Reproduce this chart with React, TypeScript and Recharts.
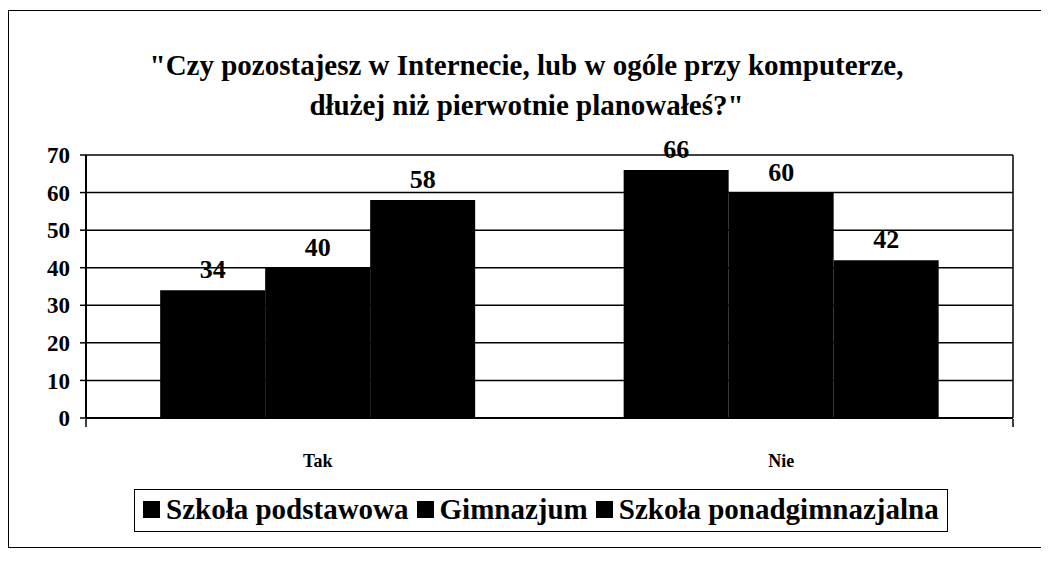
import {
  Bar,
  BarChart,
  CartesianGrid,
  LabelList,
  Legend,
  XAxis,
  YAxis,
} from "recharts";

const FONT = "Liberation Serif, Times New Roman, serif";

const categories = ["Tak", "Nie"];
const szkolaPodstawowa = [34, 66];
const gimnazjum = [40, 60];
const ponadgimnazjalna = [58, 42];
const yTicks = [0, 10, 20, 30, 40, 50, 60, 70];
const edgeTicks = [0, 1, 2];

const seriesNames = ["Szkoła podstawowa", "Gimnazjum", "Szkoła ponadgimnazjalna"];

const data = categories.map((c, i) => ({
  name: c,
  a: szkolaPodstawowa[i],
  b: gimnazjum[i],
  c: ponadgimnazjalna[i],
}));

function LegendBox() {
  return (
    <div
      style={{
        border: "1.5px solid #000",
        padding: "3px 8px 5px 8px",
        display: "flex",
        alignItems: "center",
        fontFamily: FONT,
        fontWeight: "bold",
        fontSize: 29,
        whiteSpace: "nowrap",
        background: "#fff",
      }}
    >
      {seriesNames.map((n, i) => (
        <span key={i} style={{ display: "flex", alignItems: "center", marginRight: i < 2 ? 8 : 0 }}>
          <span style={{ width: 17, height: 17, background: "#000", display: "inline-block", marginRight: 6 }} />
          {n}
        </span>
      ))}
    </div>
  );
}

// blank tick label: only the tick marks of the edge axis are wanted
const NoLabel = () => <g />;

export default function App() {
  return (
    <div
      style={{
        position: "relative",
        width: 1035,
        height: 536,
        marginTop: 2,
        border: "1.5px solid #000",
        background: "#fff",
      }}
    >
      <div
        style={{
          position: "absolute",
          top: 34,
          left: 0,
          width: "100%",
          textAlign: "center",
          fontFamily: FONT,
          fontWeight: "bold",
          fontSize: 29,
          lineHeight: "40px",
          zIndex: 2,
        }}
      >
        "Czy pozostajesz w Internecie, lub w ogóle przy komputerze,
        <br />
        dłużej niż pierwotnie planowałeś?"
      </div>
      <BarChart
        width={1035}
        height={536}
        data={data}
        margin={{ top: 144, right: 31, left: 0, bottom: 127 }}
        barCategoryGap="16%"
        barGap={0}
      >
        <CartesianGrid
          stroke="#000"
          strokeWidth={1.5}
          vertical={true}
          verticalCoordinatesGenerator={({ offset }: any) => [offset.left + offset.width]}
        />
        <XAxis
          dataKey="name"
          tickLine={false}
          axisLine={{ stroke: "#000", strokeWidth: 2 }}
          tick={{ fill: "#000", fontFamily: FONT, fontWeight: "bold", fontSize: 18 }}
          tickMargin={30}
          height={1}
        />
        <XAxis
          xAxisId="edges"
          type="number"
          domain={[0, 2]}
          ticks={edgeTicks}
          interval={0}
          tick={NoLabel}
          tickSize={8}
          tickLine={{ stroke: "#000", strokeWidth: 1.5 }}
          axisLine={false}
          height={1}
        />
        <YAxis
          domain={[0, 70]}
          ticks={yTicks}
          interval={0}
          width={77}
          tickSize={6}
          tickMargin={10}
          tickLine={{ stroke: "#000", strokeWidth: 1.5 }}
          axisLine={{ stroke: "#000", strokeWidth: 2 }}
          tick={{ fill: "#000", fontFamily: FONT, fontWeight: "bold", fontSize: 23 }}
        />
        <Legend
          verticalAlign="middle"
          align="center"
          layout="horizontal"
          wrapperStyle={{ top: 478, left: 125, width: "auto" }}
          content={() => <LegendBox />}
        />
        {(["a", "b", "c"] as const).map((k, i) => (
          <Bar key={k} dataKey={k} name={seriesNames[i]} fill="#000" isAnimationActive={false}>
            <LabelList
              dataKey={k}
              position="top"
              offset={12}
              fill="#000"
              fontFamily={FONT}
              fontWeight="bold"
              fontSize={26}
            />
          </Bar>
        ))}
      </BarChart>
    </div>
  );
}
